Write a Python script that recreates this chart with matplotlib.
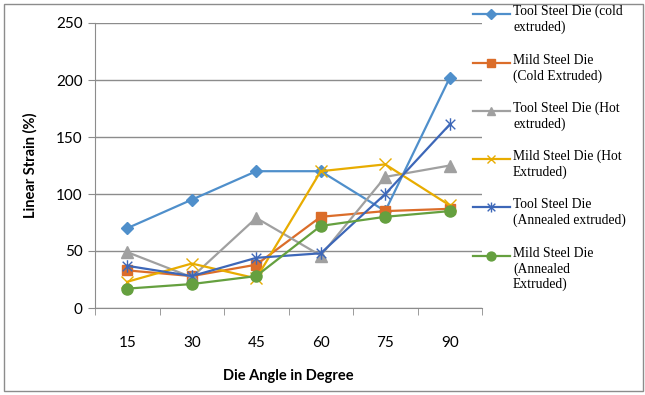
import matplotlib.pyplot as plt
from matplotlib.lines import Line2D
from matplotlib.patches import Rectangle
from matplotlib.path import Path

# Data
angles = ['15', '30', '45', '60', '75', '90']
tool_cold = [70, 95, 120, 120, 85, 202]
mild_cold = [33, 28, 38, 80, 85, 87]
tool_hot = [49, 27, 79, 46, 115, 125]
mild_hot = [23, 39, 26, 120, 126, 90]
tool_annealed = [37, 28, 44, 48, 100, 161]
mild_annealed = [17, 21, 28, 72, 80, 85]

labels = ['Tool Steel Die (cold\nextruded)', 'Mild Steel Die\n(Cold Extruded)',
          'Tool Steel Die (Hot\nextruded)', 'Mild Steel Die (Hot\nExtruded)',
          'Tool Steel Die\n(Annealed extruded)', 'Mild Steel Die\n(Annealed\nExtruded)']

# Excel-like asterisk marker (x plus vertical bar)
star = Path([(-1, -1), (1, 1), (-1, 1), (1, -1), (0, -1.3), (0, 1.3)],
            [Path.MOVETO, Path.LINETO, Path.MOVETO, Path.LINETO, Path.MOVETO, Path.LINETO])

series = [
    (tool_cold, '#4F8FCB', 'D', 6),
    (mild_cold, '#DB6D2A', 's', 7.5),
    (tool_hot, '#A0A0A0', '^', 8),
    (mild_hot, '#E8AC00', 'x', 8),
    (tool_annealed, '#3D67B8', star, 9),
    (mild_annealed, '#65A03F', 'o', 8),
]

fig = plt.figure(figsize=(6.45, 3.95), dpi=100)
ax = fig.add_axes([95 / 645, 1 - 308 / 395, 387 / 645, 285 / 395])

x = list(range(len(angles)))
for vals, col, mk, ms in series:
    ax.plot(x, vals, color=col, lw=1.6, marker=mk, ms=ms, mfc=col, mec=col, mew=1.0)

ax.set_xlim(-0.5, 5.5)
ax.set_ylim(0, 250)
ax.set_yticks(range(0, 251, 50))
ax.set_xticks(x)
ax.set_xticklabels(angles)
ax.set_xticks([i - 0.5 for i in range(7)], minor=True)
ax.grid(axis='y', color='#8C8C8C', lw=1.0)
ax.set_axisbelow(True)
for s in ['top', 'right']:
    ax.spines[s].set_visible(False)
for s in ['left', 'bottom']:
    ax.spines[s].set_color('#8C8C8C')
ax.tick_params(axis='x', which='major', length=0, pad=20, labelsize=11)
ax.tick_params(axis='x', which='minor', length=5, color='#8C8C8C')
ax.tick_params(axis='y', length=5, color='#8C8C8C', pad=4, labelsize=11)
for t in ax.get_xticklabels() + ax.get_yticklabels():
    t.set_fontfamily('Lato')

ax.set_ylabel('Linear Strain (%)', fontfamily='Lato', fontweight='bold', fontsize=10.5, labelpad=13)
ax.set_xlabel('Die Angle in Degree', fontfamily='Lato', fontweight='bold', fontsize=10.5, labelpad=14)

# Legend drawn to match Excel layout
leg_y = [14, 63, 111, 159, 207, 256]
for (vals, col, mk, ms), lab, yp in zip(series, labels, leg_y):
    fy = 1 - yp / 395
    fig.add_artist(Line2D([473 / 645, 510 / 645], [fy, fy], color=col, lw=1.6,
                          transform=fig.transFigure))
    fig.add_artist(Line2D([491 / 645], [fy], color=col, marker=mk, ms=ms * 0.8,
                          mfc=col, mec=col, transform=fig.transFigure))
    fig.text(513 / 645, fy + 9 / 395, lab, va='top', ha='left', fontsize=9.8,
             fontfamily='Liberation Serif', linespacing=1.2)

# Outer chart border
fig.add_artist(Rectangle((4 / 645, 4 / 395), 639 / 645, 387 / 395, fill=False,
                         edgecolor='#8C8C8C', lw=1.0, transform=fig.transFigure))

plt.savefig('out.png', dpi=100)
plt.close()
